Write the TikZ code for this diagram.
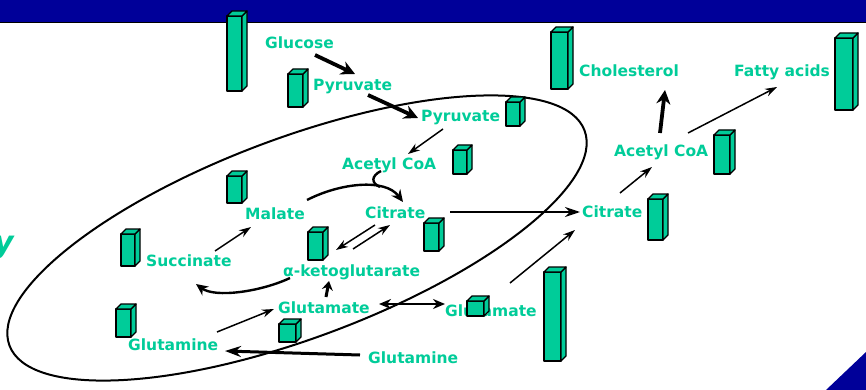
\documentclass[tikz,border=0pt]{standalone}
\usepackage{fontspec}
\setmainfont{DejaVu Sans}
\usetikzlibrary{arrows.meta}
\definecolor{grn}{RGB}{0,204,153}
\definecolor{navy}{RGB}{0,0,153}
\tikzset{
 lbl/.style={text=grn, font=\bfseries\fontsize{15.5}{18}\selectfont, inner sep=0pt, anchor=base west},
 barst/.style={fill=grn, draw=black, line width=1.3pt, line join=round},
 thinarr/.style={line width=1.5pt, -{Stealth[length=12pt,width=8pt]}},
 midarr/.style={line width=2.4pt, -{Stealth[length=12pt,width=11pt]}},
 fatarr/.style={line width=3.8pt, -{Stealth[length=14pt,width=14pt]}},
}
\newcommand{\gbar}[4]{%
 \filldraw[barst] (#1,#2) rectangle (#3,#4);
 \filldraw[barst] (#3,#2) -- ++(5,-5) -- ({#3+5},{#4-5}) -- (#3,#4) -- cycle;
 \filldraw[barst] (#1,#2) -- ++(5,-5) -- ({#3+5},{#2-5}) -- (#3,#2) -- cycle;
}
\begin{document}
\begin{tikzpicture}[x=1pt,y=-1pt]
\clip (0,0) rectangle (866,390);
\fill[white] (0,0) rectangle (866,390);
% banner and corner
\fill[navy] (0,0) rectangle (866,22);
\draw[line width=1.3pt] (0,22.5) -- (866,22.5);
\fill[navy] (826,390) -- (866,352) -- (866,390) -- cycle;
% partial title letter
\node[text=grn, font=\bfseries\itshape\fontsize{30}{30}\selectfont, anchor=base east, inner sep=0pt] (ypart) at (14,252) {y};
% mitochondrion outline
\draw[line width=2pt, shift={(297,238)}, rotate=20.5] (0,0) ellipse [x radius=307, y radius=100];
% labels
\node[lbl] (glc) at (265,49) {Glucose};
\node[lbl] (pyr1) at (313,91) {Pyruvate};
\node[lbl] (pyr2) at (421,122) {Pyruvate};
\node[lbl] (acoa1) at (342,169) {Acetyl CoA};
\node[lbl] (mal) at (245,219) {Malate};
\node[lbl] (cit1) at (365,218) {Citrate};
\node[lbl] (suc) at (146,266) {Succinate};
\node[lbl] (akg) at (283,276) {α-ketoglutarate};
\node[lbl] (glu1) at (278,313) {Glutamate};
\node[lbl] (gln1) at (128,350) {Glutamine};
\node[lbl] (gln2) at (368,363) {Glutamine};
\node[lbl] (glu2) at (445,316) {Glutamate};
\node[lbl] (cit2) at (582,217) {Citrate};
\node[lbl] (acoa2) at (614,157) {Acetyl CoA};
\node[lbl] (chol) at (579,77) {Cholesterol};
\node[lbl] (fa) at (734,77) {Fatty acids};
% arrow end points
\coordinate (p1) at (315,55);  \coordinate (p2) at (355,74);
\coordinate (p3) at (368,95);  \coordinate (p4) at (418,118);
\coordinate (p5) at (443,129); \coordinate (p6) at (408,154);
\coordinate (p7) at (307,200); \coordinate (p8) at (403,202);
\coordinate (p9) at (381,171); \coordinate (p10) at (380,187);
\coordinate (p11) at (450,212); \coordinate (p12) at (580,212);
\coordinate (p13) at (375,225); \coordinate (p14) at (336,250);
\coordinate (p15) at (353,249); \coordinate (p16) at (390,225);
\coordinate (p17) at (215,251); \coordinate (p18) at (251,227);
\coordinate (p19) at (290,278); \coordinate (p20) at (196,284);
\coordinate (p21) at (326,297); \coordinate (p22) at (329,281);
\coordinate (p23) at (217,332); \coordinate (p24) at (274,309);
\coordinate (p25) at (379,304); \coordinate (p26) at (445,304);
\coordinate (p27) at (360,355); \coordinate (p28) at (225,351);
\coordinate (p29) at (510,283); \coordinate (p30) at (575,230);
\coordinate (p31) at (620,193); \coordinate (p32) at (652,167);
\coordinate (p33) at (660,133); \coordinate (p34) at (665,90);
\coordinate (p35) at (688,133); \coordinate (p36) at (777,87);
% arrows
\draw[fatarr] (p1) -- (p2);
\draw[fatarr] (p3) -- (p4);
\draw[thinarr] (p5) -- (p6);
\draw[midarr] (p7) .. controls (340,183) and (385,178) .. (p8);
\draw[line width=2.4pt] (p9) .. controls (371,176) and (371,183) .. (p10);
\draw[line width=2pt, -{Stealth[length=15pt,width=10pt]}] (p11) -- (p12);
\draw[thinarr] (p13) -- (p14);
\draw[thinarr] (p15) -- (p16);
\draw[thinarr] (p17) -- (p18);
\draw[midarr] (p19) .. controls (260,292) and (215,298) .. (p20);
\draw[line width=3pt, -{Stealth[length=9pt,width=11pt]}] (p21) -- (p22);
\draw[thinarr] (p23) -- (p24);
\draw[line width=2.2pt, {Stealth[length=12pt,width=10pt]}-{Stealth[length=12pt,width=10pt]}] (p25) -- (p26);
\draw[line width=3pt, -{Stealth[length=16pt,width=11pt]}] (p27) -- (p28);
\draw[thinarr] (p29) -- (p30);
\draw[thinarr] (p31) -- (p32);
\draw[fatarr] (p33) -- (p34);
\draw[thinarr] (p35) -- (p36);
% bars
\gbar{227}{16}{242}{91}
\gbar{288}{74}{303}{107}
\gbar{227}{176}{242}{203}
\gbar{551}{32}{568}{89}
\gbar{835}{38}{853}{110}
\gbar{506}{102}{520}{126}
\gbar{453}{150}{467}{174}
\gbar{714}{135}{730}{174}
\gbar{121}{234}{135}{266}
\gbar{116}{309}{131}{337}
\gbar{308}{232}{323}{260}
\gbar{279}{324}{296}{342}
\gbar{424}{223}{439}{251}
\gbar{648}{199}{663}{240}
\gbar{544}{272}{561}{361}
\gbar{467}{301}{484}{316}
\end{tikzpicture}
\end{document}
